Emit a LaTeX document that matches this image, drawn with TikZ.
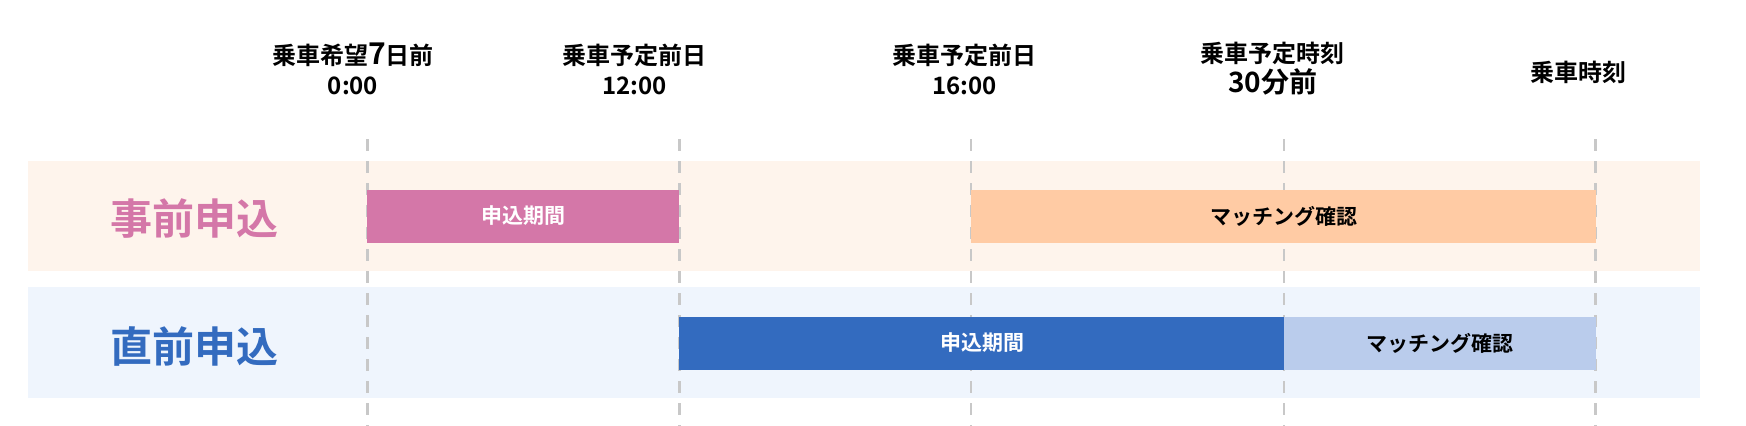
\documentclass[tikz,border=0pt]{standalone}
\usepackage{fontspec}
\setmainfont{Noto Sans CJK JP}[BoldFont={Noto Sans CJK JP Bold}]
\definecolor{bandA}{HTML}{FEF4EC}
\definecolor{bandB}{HTML}{EFF5FD}
\definecolor{pinkbar}{HTML}{D477A8}
\definecolor{orangebar}{HTML}{FFCBA4}
\definecolor{bluebar}{HTML}{336BBF}
\definecolor{lbluebar}{HTML}{BACCEC}
\definecolor{gridc}{HTML}{C8C8C8}
\begin{document}
\begin{tikzpicture}[x=1.1135pt,y=-1.1135pt,
  hdr/.style={font=\fontsize{24}{30}\selectfont\bfseries,align=center},
  big/.style={font=\fontsize{42}{44}\selectfont\bfseries},
  barlbl/.style={font=\fontsize{21}{26}\selectfont\bfseries},
  grid/.style={gridc,line width=2.5pt,dash pattern=on 12pt off 10pt}]
\fill[bandA] (25,145) rectangle (1527,243);
\fill[bandB] (25,258) rectangle (1527,357);
\foreach \x/\n in {330/a,610/b,872/c,1153/d,1433/e}{
  \coordinate (t\n) at (\x,125); \coordinate (u\n) at (\x,385);
  \draw[grid] (t\n) -- (u\n);}
\fill[pinkbar] (330,171) rectangle (610,218);
\fill[orangebar] (872,171) rectangle (1433,218);
\fill[bluebar] (610,285) rectangle (1153,332);
\fill[lbluebar] (1153,285) rectangle (1433,332);
\node[barlbl,white] (p1) at (470,194) {申込期間};
\node[barlbl] (m1) at (1153,194) {マッチング確認};
\node[barlbl,white] (p2) at (882,308) {申込期間};
\node[barlbl] (m2) at (1293,308) {マッチング確認};
\node[big,pinkbar] (r1) at (175,196) {事前申込};
\node[big,bluebar] (r2) at (175,311) {直前申込};
\node[hdr] (h1) at (317,62) {乗車希望\fontsize{30}{30}\selectfont 7\fontsize{24}{30}\selectfont 日前\\0:00};
\node[hdr] (h2) at (570,62) {乗車予定前日\\12:00};
\node[hdr] (h3) at (866,62) {乗車予定前日\\16:00};
\node[hdr] (h4) at (1143,62) {乗車予定時刻\\\fontsize{28}{32}\selectfont 30分前};
\node[hdr] (h5) at (1418,65) {乗車時刻};
\pgfresetboundingbox
\useasboundingbox (0,0) rectangle (1568,381.7);
\end{tikzpicture}
\end{document}
